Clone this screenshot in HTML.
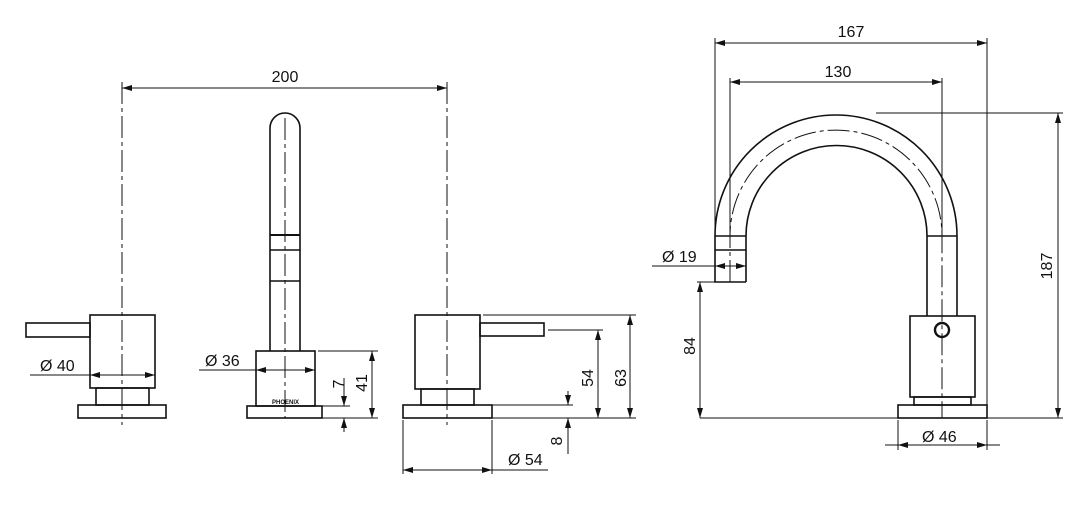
<!DOCTYPE html>
<html><head><meta charset="utf-8"><style>
html,body{margin:0;padding:0;background:#fff}
svg{display:block}
text{font-family:"Liberation Sans",sans-serif;font-size:16px;fill:#111}
</style></head><body>
<svg width="1090" height="530" viewBox="0 0 1090 530" xmlns="http://www.w3.org/2000/svg">
<defs>
<marker id="a" viewBox="0 0 10 6" refX="10" refY="3" markerWidth="10" markerHeight="6" markerUnits="userSpaceOnUse" orient="auto-start-reverse"><path d="M0,0L10,3L0,6z" fill="#111"/></marker>
</defs>
<g fill="none" stroke="#111" stroke-width="1.6">
<!-- left handle -->
<rect x="90" y="315" width="65" height="73"/>
<rect x="26" y="323" width="64" height="14"/>
<rect x="96" y="388" width="53" height="17"/>
<rect x="78" y="405" width="88" height="13"/>
<!-- middle spout -->
<path d="M270,351 V128 A15,15 0 0 1 300,128 V351"/>
<line x1="270" y1="235" x2="300" y2="235" stroke-width="2"/>
<line x1="270" y1="250" x2="300" y2="250"/>
<line x1="270" y1="281" x2="300" y2="281"/>
<rect x="256" y="351" width="59" height="55"/>
<rect x="247" y="406" width="75" height="12"/>
<!-- right handle -->
<rect x="415" y="315" width="65" height="74"/>
<rect x="480" y="323" width="64" height="13"/>
<rect x="421" y="389" width="53" height="16"/>
<rect x="403" y="405" width="89" height="13"/>
<!-- gooseneck -->
<path d="M715,236 A121,121 0 0 1 957,236 V316"/>
<path d="M746,282 V236 A90.5,90.5 0 0 1 927,236 V316"/>
<path d="M715,236 V282 H746"/>
<line x1="715" y1="236" x2="746" y2="236"/>
<line x1="715" y1="250" x2="746" y2="250"/>
<line x1="927" y1="236" x2="957" y2="236"/>
<rect x="910" y="316" width="65" height="81"/>
<circle cx="942" cy="330" r="7" stroke-width="2.4"/>
<rect x="914" y="397" width="57" height="8"/>
<rect x="898" y="405" width="89" height="13"/>
</g>
<!-- center lines -->
<g fill="none" stroke="#111" stroke-width="1" stroke-dasharray="22,4,4,4">
<line x1="122" y1="82" x2="122" y2="425"/>
<line x1="285" y1="118" x2="285" y2="418"/>
<line x1="447" y1="82" x2="447" y2="425"/>
<path d="M730,282 V236 A106,106 0 0 1 942,236 V418"/>
</g>
<text x="272" y="404" style="font-size:6px;font-weight:bold">PHOENIX</text>
<!-- dimensions -->
<g fill="none" stroke="#111" stroke-width="1">
<line x1="122" y1="88" x2="447" y2="88" marker-start="url(#a)" marker-end="url(#a)"/>
<line x1="30" y1="375" x2="90" y2="375"/>
<line x1="90" y1="375" x2="155" y2="375" marker-start="url(#a)" marker-end="url(#a)"/>
<line x1="199" y1="370" x2="256" y2="370"/>
<line x1="256" y1="370" x2="315" y2="370" marker-start="url(#a)" marker-end="url(#a)"/>
<line x1="318" y1="351" x2="378" y2="351"/>
<line x1="322" y1="418" x2="378" y2="418"/>
<line x1="372" y1="351" x2="372" y2="418" marker-start="url(#a)" marker-end="url(#a)"/>
<line x1="322" y1="406" x2="350" y2="406"/>
<line x1="344" y1="378" x2="344" y2="406" marker-end="url(#a)"/>
<line x1="344" y1="432" x2="344" y2="418" marker-end="url(#a)"/>
<line x1="483" y1="315" x2="636" y2="315"/>
<line x1="492" y1="418" x2="636" y2="418"/>
<line x1="630" y1="315" x2="630" y2="418" marker-start="url(#a)" marker-end="url(#a)"/>
<line x1="548" y1="330" x2="603" y2="330"/>
<line x1="598" y1="330" x2="598" y2="418" marker-start="url(#a)" marker-end="url(#a)"/>
<line x1="492" y1="405" x2="573" y2="405"/>
<line x1="568" y1="391" x2="568" y2="405" marker-end="url(#a)"/>
<line x1="568" y1="454" x2="568" y2="418" marker-end="url(#a)"/>
<line x1="403" y1="420" x2="403" y2="474"/>
<line x1="492" y1="420" x2="492" y2="474"/>
<line x1="403" y1="470" x2="492" y2="470" marker-start="url(#a)" marker-end="url(#a)"/>
<line x1="492" y1="470" x2="548" y2="470"/>
<line x1="715" y1="38" x2="715" y2="236"/>
<line x1="987" y1="38" x2="987" y2="405"/>
<line x1="715" y1="43" x2="987" y2="43" marker-start="url(#a)" marker-end="url(#a)"/>
<line x1="730" y1="78" x2="730" y2="236"/>
<line x1="942" y1="78" x2="942" y2="236"/>
<line x1="730" y1="82" x2="942" y2="82" marker-start="url(#a)" marker-end="url(#a)"/>
<line x1="876" y1="113" x2="1063" y2="113"/>
<line x1="700" y1="418" x2="1063" y2="418"/>
<line x1="1058" y1="113" x2="1058" y2="418" marker-start="url(#a)" marker-end="url(#a)"/>
<line x1="697" y1="282" x2="715" y2="282"/>
<line x1="700" y1="282" x2="700" y2="418" marker-start="url(#a)" marker-end="url(#a)"/>
<line x1="652" y1="266" x2="715" y2="266"/>
<line x1="715" y1="266" x2="746" y2="266" marker-start="url(#a)" marker-end="url(#a)"/>
<line x1="898" y1="420" x2="898" y2="450"/>
<line x1="987" y1="420" x2="987" y2="450"/>
<line x1="885" y1="445" x2="898" y2="445"/>
<line x1="898" y1="445" x2="987" y2="445" marker-start="url(#a)" marker-end="url(#a)"/>
<line x1="987" y1="445" x2="1000" y2="445"/>
</g>
<text x="285" y="82" text-anchor="middle">200</text>
<text x="40" y="371">Ø 40</text>
<text x="205" y="366">Ø 36</text>
<text x="508" y="465">Ø 54</text>
<text x="662" y="262">Ø 19</text>
<text x="922" y="442">Ø 46</text>
<text x="851" y="37" text-anchor="middle">167</text>
<text x="838" y="77" text-anchor="middle">130</text>
<text transform="translate(344,384) rotate(-90)" text-anchor="middle">7</text>
<text transform="translate(367,383) rotate(-90)" text-anchor="middle">41</text>
<text transform="translate(593,378) rotate(-90)" text-anchor="middle">54</text>
<text transform="translate(626,378) rotate(-90)" text-anchor="middle">63</text>
<text transform="translate(562,441) rotate(-90)" text-anchor="middle">8</text>
<text transform="translate(695,346) rotate(-90)" text-anchor="middle">84</text>
<text transform="translate(1052,266) rotate(-90)" text-anchor="middle">187</text>
</svg>
</body></html>
